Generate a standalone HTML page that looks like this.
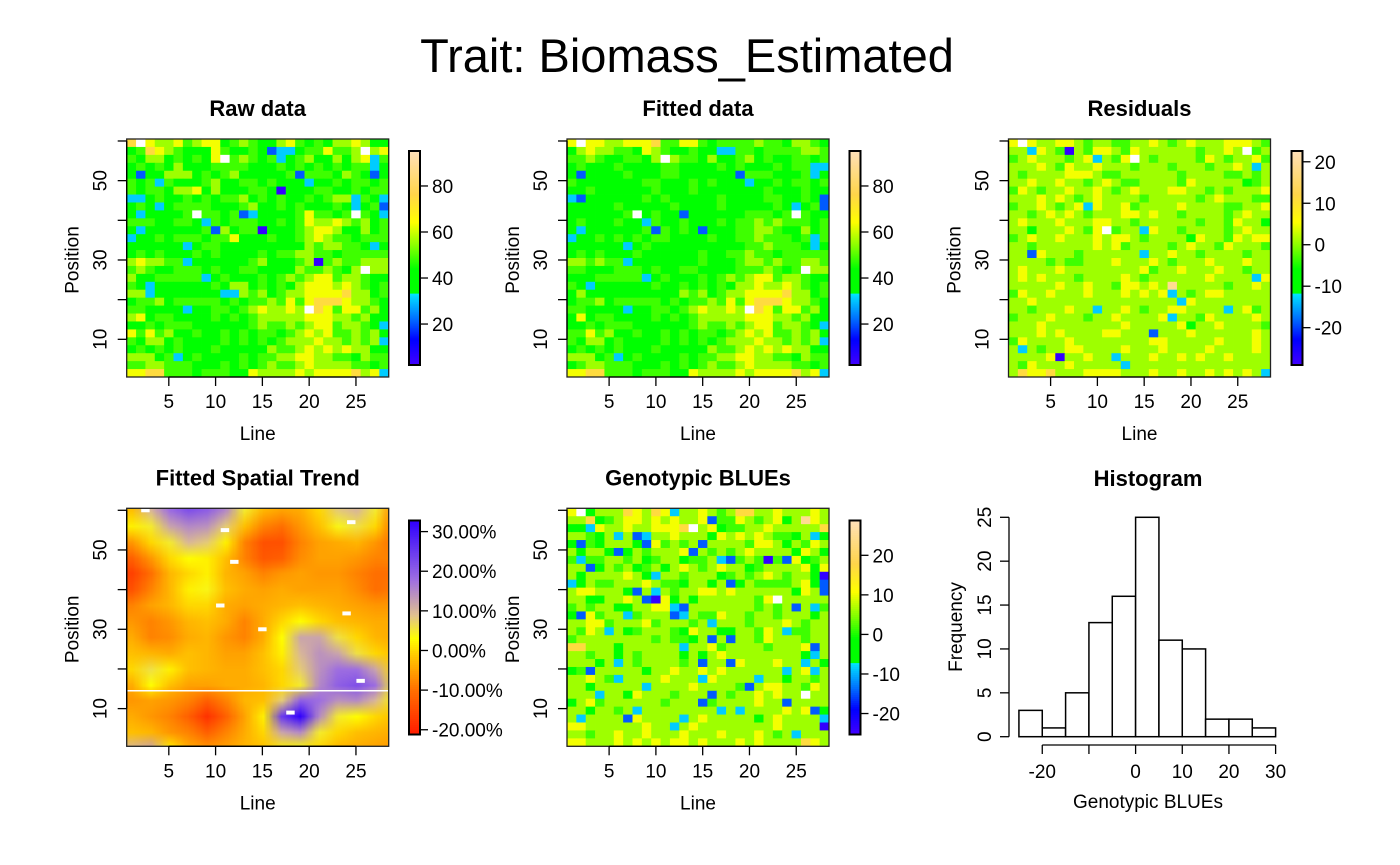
<!DOCTYPE html>
<html><head><meta charset="utf-8"><style>
body{margin:0;background:#fff;}
#wrap{position:relative;width:1400px;height:865px;overflow:hidden;font-family:"Liberation Sans",sans-serif;}
svg{position:absolute;left:0;top:0;}
canvas{position:absolute;}
</style></head><body>
<div id="wrap">
<canvas id="trend" width="262" height="238" style="left:126.7px;top:508.3px"></canvas>
<svg id="svg" width="1400" height="865">
<text x="687" y="72" font-size="47" text-anchor="middle">Trait: Biomass_Estimated</text>
</svg>
</div>
<script>
// ---------- data ----------
const rawRows=["8w76675677456544675454667644","4587654447544541223557556w67","5466454547w56545245644646725","4545464445555444545354545524","4144666454564434451555465414","5452544456445545443244535545","5455466746444554044455445455","2245445454556454544545662542","4542455554445634545444542451","4234445w5545124444575545w542","5554455425455544545766765645","4244434451645503445677644645","2445455545574445445676554555","4434442455444433444656655424","4545444545444454556655455555","6766552434444564445605655666","5654455545435544346556546w66","6445555524543454565677566544","5424444445466454546777676545","6624444344226564566777786645","4556455555454556575788876654","5544442445545676676w87577564","6745544445454566666777665644","4454555433444565565677566542","7575644544545455456767556563","5466453444545454566676656562","4545454445434446556767676644","6664524544445455667766554655","5566555444545456556766665545","7788555455544766667677778672"];
const fittedRows=["7w77667778557754555565546654","4676655476544543225535555665","5565445546w65546445645445545","4544454444554444545444545522","4134445444554434331555434524","5434444455444545443244545535","4454444445444544444445444544","2144444454544444544445544541","4444454444454434544444542451","4444445w4544134444455545w544","4544454425445444545565655545","4244434451545414445566544645","2445454545544445445565554525","4434442454444434444556555424","4545444544444454455655455555","6656552434444454445665655665","5544455545435544345556545w66","4445555524543454565677566544","5424444445445454546676676545","4644444344436564566777786645","4556455555454556575788876654","5544442445545676676w87577564","4745544445454566666777665644","4454555433444565565677566542","5575644544545455456767556563","5466453444545454566676656562","4545454445434446556767676644","6664524544445455667766554655","4566555444545456556766665545","7788555455544766667677778672"];
const residRows=["7w76677656655667656766677765","6627650657765766666656676w56","5676665672657w65666657656675","6667657667666566656665667626","6566667776556666665666655656","6676676656765566665766666456","5765667667656766677665656667","6667676567666656666656766655","5667656727667566667666655667","6656767656667767665666656766","6766676667766566666656657663","6636667657w56627665666656766","5676676667677656666376657677","6656666667675666656766576665","6617666566666626676656666566","6666565566676667656667666766","6766676666666675667666766566","6767666566667656666667666627","6666676676657767696666656676","5766766676667676726567766666","6676666666666666662766666666","6656667662667656677666626756","5666766656676666726657666676","6667666666667666667366766665","6667676666776661666766666676","5766667666666667766666766676","6265667766667666766667666676","6666706676626667667676676666","6576667666662666666666666666","6877866677776667667667676762"];
const bluesRows=["7w46668768726676568866766676","6684567767676671557656736976","4427667667778w67455667666668","6654626126676664767676554624","4153666417565616666577646576","6466414656667165656766664764","5255665645664556215650517456","6614656456367656766456666747","6466667632665666456567656640","2465566676554664614655556741","6776664162656677676666664761","6644667610746466666657w66666","5656644667721666666656561625","3175662566612655766566566636","6677566675666562666566676566","6576264566654766346657625566","5666666665655461616657666566","8866636666662667566665666716","6656646566664636766666666326","6664626566665616617666766264","4516666646676676766666626726","6676526666766627666626636656","6646666626666766665167766576","6662664766656661656676766w66","4675666666566615666676616666","6646656266666666262666676714","6266661766662676666646766662","7766666676626766666666766660","6656676676667666766676562666","7766676767677676667676666876"];
const trendGrid=[
[-2,10,18,22,20,15,5,-3,-5,-4,0,8,10,5,-8],
[2,5,12,15,14,8,-2,-8,-10,-6,-2,4,6,0,-10],
[-6,0,5,10,8,2,-8,-14,-14,-8,-5,-4,-3,-6,-10],
[-12,-6,0,3,2,-2,-8,-13,-12,-7,-5,-5,-6,-8,-8],
[-16,-10,-3,0,2,-3,-5,-8,-6,-5,-6,-6,-8,-10,-10],
[-14,-8,-3,2,4,-2,-4,-5,-4,-5,-5,-5,-7,-10,-9],
[-8,-5,-3,0,0,-4,-5,-4,-3,-2,-3,-4,-5,-6,-6],
[-6,-8,-6,-3,-2,-4,-8,-4,0,3,0,-2,-3,-4,-4],
[-4,-8,-7,-4,-3,-6,-8,-4,3,12,12,6,0,-3,-4],
[-2,-3,-4,-2,-3,-5,-5,-2,2,10,14,12,6,0,-2],
[0,6,2,-2,-3,-4,-4,-2,0,8,14,18,18,12,0],
[-4,3,-2,-5,-5,-4,-4,-3,0,5,15,20,22,18,5],
[-6,-5,-6,-8,-12,-8,-3,-2,8,20,18,14,15,10,2],
[-4,-6,-8,-12,-18,-12,-5,2,25,33,15,5,3,0,-2],
[-2,-3,-6,-8,-12,-8,-4,0,12,15,5,0,-2,-3,-4],
[10,12,2,-4,-6,-5,-3,-2,2,3,0,-3,-4,-5,-6]];
const trendMissing=[[2.5,60],[11,55],[12,47],[10.5,36],[15,30],[24,34],[24.5,57],[25.5,17],[18,9]];
const histBreaks=[-25,-20,-15,-10,-5,0,5,10,15,20,25,30];
const histCounts=[3,1,5,13,16,25,11,10,2,2,1];
const histXTicks=[-20,-10,0,10,20,30];
const histXLabels=["-20","","0","10","20","30"];
const histYTicks=[0,5,10,15,20,25];
const lineTicks=[5,10,15,20,25];
const posTicks=[10,20,30,40,50,60];
const posLabels=[10,30,50];
const levelT=[0.03,0.2,0.31,0.38,0.42,0.50,0.58,0.66,0.78,0.93];
const rawBar=[2.2,95.2],rawBarTicks=[20,40,60,80];
const resBar=[-29,22.6],resBarTicks=[-20,-10,0,10,20];
const trendBar=[-21.2,32.8],trendBarTicks=[-20,-10,0,10,20,30];
const bluesBar=[-25.3,28.8],bluesBarTicks=[-20,-10,0,10,20];

// ---------- helpers ----------
const NS="http://www.w3.org/2000/svg";
const svg=document.getElementById('svg');
function mk(tag,attrs,parent){const e=document.createElementNS(NS,tag);for(const k in attrs)e.setAttribute(k,attrs[k]);(parent||svg).appendChild(e);return e;}
function hex(h){return [parseInt(h.substr(1,2),16),parseInt(h.substr(3,2),16),parseInt(h.substr(5,2),16)];}
function cmap(stops,t){t=Math.max(0,Math.min(1,t));for(let i=1;i<stops.length;i++){if(t<=stops[i][0]){const a=stops[i-1],b=stops[i];const f=(t-a[0])/(b[0]-a[0]||1);const ca=hex(a[1]),cb=hex(b[1]);return [0,1,2].map(k=>Math.round(ca[k]+(cb[k]-ca[k])*f));}}return hex(stops[stops.length-1][1]);}
function rgb(c){return `rgb(${c[0]},${c[1]},${c[2]})`;}
const topo=[[0,'#4400ff'],[0.12,'#0000ff'],[0.22,'#0070ff'],[0.335,'#00e5ff'],[0.34,'#00ff00'],[0.45,'#00ff00'],[0.56,'#88ff00'],[0.67,'#ffff00'],[0.8,'#ffd54a'],[1,'#ffe0b8']];
const heat=[[0,'#ff1a00'],[0.21,'#ff7000'],[0.37,'#ffc800'],[0.45,'#ffff00'],[0.56,'#e0c090'],[0.72,'#a070e0'],[1,'#3000ff']];

const W=262,H=238,cw=W/28,ch=H/60;
function xs(px,line){return px+(line-0.5)*cw;}
function ys(py,pos){return py+(60.5-pos)*ch;}

function axes(px,py,title,g){
  mk('text',{x:px+W/2,y:py-23,'font-size':22,'font-weight':'bold','text-anchor':'middle',},g).textContent=title;
  mk('rect',{x:px,y:py,width:W,height:H,fill:'none',stroke:'#222','stroke-width':1.3,},g);
  posTicks.forEach(p=>{const y=ys(py,p);const t=mk('line',{x1:px,x2:px-9,y1:y,y2:y,stroke:'#000','stroke-width':1.3},g);});
  mk('line',{x1:px,x2:px,y1:ys(py,60),y2:ys(py,10),stroke:'#000','stroke-width':1.3},g);
  posLabels.forEach(p=>{const y=ys(py,p);const t=mk('text',{x:0,y:0,'font-size':19,'text-anchor':'middle',transform:`translate(${px-20},${y}) rotate(-90)`},g);t.textContent=p;});
  lineTicks.forEach(l=>{const x=xs(px,l);const t=mk('line',{x1:x,x2:x,y1:py+H,y2:py+H+9,stroke:'#000','stroke-width':1.3},g);
    const tl=mk('text',{x:x,y:py+H+31,'font-size':19,'text-anchor':'middle'},g);tl.textContent=l;});
  mk('line',{x1:xs(px,5),x2:xs(px,25),y1:py+H,y2:py+H,stroke:'#000','stroke-width':1.3},g);
  mk('text',{x:px+W/2,y:py+H+63,'font-size':19,'text-anchor':'middle',},g).textContent='Line';
  mk('text',{x:0,y:0,'font-size':19,'text-anchor':'middle',transform:`translate(${px-48},${py+H/2+2}) rotate(-90)`,},g).textContent='Position';
}
function colorbar(bx,by,range,ticks,stops,fmt,g){
  const bh=214,bw=11;
  for(let i=0;i<107;i++){const t0=i/107;const r=mk('rect',{x:bx,y:by+bh-(i+1)*bh/107,width:bw,height:bh/107+0.6,fill:rgb(cmap(stops,t0+0.5/107))},g);}
  mk('rect',{x:bx,y:by,width:bw,height:bh,fill:'none',stroke:'#000','stroke-width':2,},g);
  ticks.forEach(v=>{const y=by+bh-(v-range[0])/(range[1]-range[0])*bh;
    const l=mk('line',{x1:bx+bw,x2:bx+bw+8,y1:y,y2:y,stroke:'#000','stroke-width':1.3},g);
    const t=mk('text',{x:bx+bw+12,y:y+7,'font-size':19},g);t.textContent=fmt(v);});
}
function heatPanel(px,py,rows,range,title,name){
  const g=mk('g',{});
  rows.forEach((row,r)=>{for(let c=0;c<28;c++){const ch_=row[c%row.length];let fill;
    if(ch_==='w')fill='#fff';else{const v=range[0]+levelT[+ch_]*(range[1]-range[0]);fill=rgb(cmap(topo,(v-range[0])/(range[1]-range[0])));}
    const e=mk('rect',{x:xs(px,c+1)-cw/2,y:ys(py,60-2*r)-ch/2,width:cw+0.4,height:2*ch+0.4,fill:fill},g);
    }});
  axes(px,py,title,g);
  return g;
}
const R1=139,R2=508.3;
const g1=heatPanel(126.7,R1,rawRows,rawBar,'Raw data','raw-data-panel');
colorbar(409,151,rawBar,rawBarTicks,topo,v=>v,g1);
const g2=heatPanel(567,R1,fittedRows,rawBar,'Fitted data','fitted-data-panel');
colorbar(849.5,151,rawBar,rawBarTicks,topo,v=>v,g2);
const g3=heatPanel(1008.5,R1,residRows,resBar,'Residuals','residuals-panel');
colorbar(1291.5,151,resBar,resBarTicks,topo,v=>v,g3);
const g5=heatPanel(567,R2,bluesRows,bluesBar,'Genotypic BLUEs','blues-panel');
colorbar(849.5,520.5,bluesBar,bluesBarTicks,topo,v=>v,g5);

// spatial trend
(function(){
  const px=126.7,py=R2;
  const small=document.createElement('canvas');small.width=15;small.height=16;
  const sc=small.getContext('2d');const img=sc.createImageData(15,16);
  trendGrid.forEach((row,j)=>row.forEach((v,i)=>{const c=cmap(heat,(v-trendBar[0])/(trendBar[1]-trendBar[0]));const k=(j*15+i)*4;img.data[k]=c[0];img.data[k+1]=c[1];img.data[k+2]=c[2];img.data[k+3]=255;}));
  sc.putImageData(img,0,0);
  const cv=document.getElementById('trend').getContext('2d');cv.imageSmoothingEnabled=true;
  cv.drawImage(small,(0-0.5)*cw,(60.5-62)*ch,15*2*cw,16*4*ch);
  const g=mk('g',{});
  trendMissing.forEach(m=>{const e=mk('rect',{x:xs(px,m[0])-cw/2*0.9,y:ys(py,m[1])-ch/2,width:cw*0.9,height:ch,fill:'#fff'},g);});
  mk('line',{x1:px,x2:px+W,y1:ys(py,14.5),y2:ys(py,14.5),stroke:'#fff','stroke-width':1.5,},g);
  axes(px,py,'Fitted Spatial Trend',g);
  colorbar(409,520.5,trendBar,trendBarTicks,heat,v=>v.toFixed(2)+'%',g);
})();

// histogram
(function(){
  const g=mk('g',{});
  const X=v=>1135.6+v*4.667, Y=c=>736.7-c*8.776;
  mk('text',{x:1148,y:486,'font-size':22,'font-weight':'bold','text-anchor':'middle',},g).textContent='Histogram';
  histCounts.forEach((c,i)=>{const e=mk('rect',{x:X(histBreaks[i]),y:Y(c),width:X(histBreaks[i+1])-X(histBreaks[i]),height:Y(0)-Y(c),fill:'#fff',stroke:'#000','stroke-width':1.5},g);});
  mk('line',{x1:1009,x2:1009,y1:Y(0),y2:Y(25),stroke:'#000','stroke-width':1.3},g);
  histYTicks.forEach(v=>{const l=mk('line',{x1:1009,x2:1000,y1:Y(v),y2:Y(v),stroke:'#000','stroke-width':1.3},g);
    const t=mk('text',{x:0,y:0,'font-size':19,'text-anchor':'middle',transform:`translate(${991},${Y(v)}) rotate(-90)`},g);t.textContent=v;});
  const ay=745;
  mk('line',{x1:X(-20),x2:X(30),y1:ay,y2:ay,stroke:'#000','stroke-width':1.3},g);
  histXTicks.forEach((v,i)=>{const l=mk('line',{x1:X(v),x2:X(v),y1:ay,y2:ay+9,stroke:'#000','stroke-width':1.3},g);
    const t=mk('text',{x:X(v),y:ay+33,'font-size':19,'text-anchor':'middle'},g);t.textContent=histXLabels[i];});
  mk('text',{x:1148,y:808,'font-size':19,'text-anchor':'middle',},g).textContent='Genotypic BLUEs';
  mk('text',{x:0,y:0,'font-size':19,'text-anchor':'middle',transform:'translate(962,627) rotate(-90)',},g).textContent='Frequency';
})();
</script>
</body></html>
